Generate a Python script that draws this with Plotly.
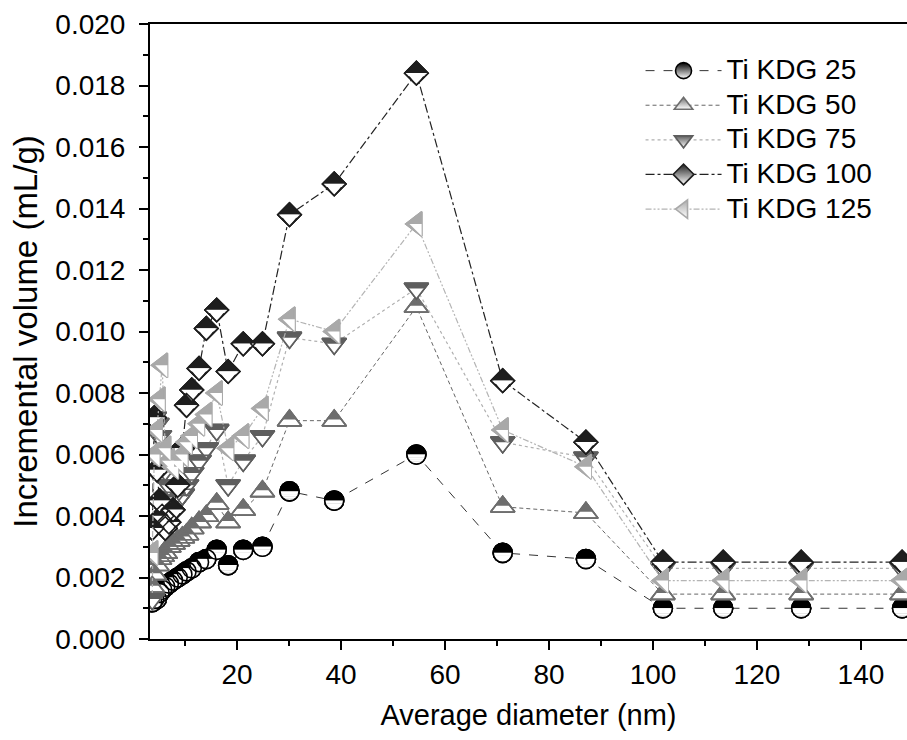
import math
import plotly.graph_objects as go

# ---------------- data ----------------
diameter_nm = [3.7, 4.1, 4.6, 5.1, 5.6, 6.2, 6.9, 7.7, 8.6, 9.5, 10.3, 11.3, 12.7, 14.1,
               16.1, 18.3, 21.2, 24.9, 30.1, 38.7, 54.5, 71.1, 87.1, 101.9, 113.5, 128.5, 147.9]

ti_kdg_25 = [0.0012, 0.0013, 0.0013, 0.0015, 0.0016, 0.0017, 0.0018, 0.0019, 0.0020, 0.0021,
             0.0022, 0.0023, 0.0025, 0.0026, 0.0029, 0.0024, 0.0029, 0.0030, 0.0048, 0.0045,
             0.0060, 0.0028, 0.0026, 0.0010, 0.0010, 0.0010, 0.0010]
ti_kdg_50 = [0.0017, 0.0021, 0.0024, 0.0026, 0.0027, 0.0028, 0.0030, 0.0031, 0.0032, 0.0033,
             0.0034, 0.0036, 0.0038, 0.0040, 0.0044, 0.0038, 0.0042, 0.0048, 0.0071, 0.0071,
             0.0108, 0.0043, 0.0041, 0.00146, 0.00146, 0.00146, 0.00146]
ti_kdg_75 = [0.0013, 0.0072, 0.0070, 0.0066, 0.0060, 0.0055, 0.0050, 0.0046, 0.0045, 0.0047,
             0.0050, 0.0054, 0.0058, 0.0062, 0.0068, 0.0050, 0.0058, 0.0066, 0.0098, 0.0096,
             0.0114, 0.0064, 0.0059, 0.0023, 0.0023, 0.0023, 0.0023]
ti_kdg_100 = [0.0036, 0.0072, 0.0055, 0.0045, 0.0040, 0.0036, 0.0038, 0.0042, 0.0050, 0.0062,
              0.0076, 0.0081, 0.0088, 0.0101, 0.0107, 0.0087, 0.0096, 0.0096, 0.0138, 0.0148,
              0.0184, 0.0084, 0.0064, 0.0025, 0.0025, 0.0025, 0.0025]
ti_kdg_125 = [0.0028, 0.0060, 0.0068, 0.0078, 0.0089, 0.0062, 0.0058, 0.0056, 0.0058, 0.0060,
              0.0064, 0.0066, 0.0070, 0.0073, 0.0080, 0.0062, 0.0066, 0.0075, 0.0104, 0.0100,
              0.0135, 0.0068, 0.0056, 0.0019, 0.0019, 0.0019, 0.0019]

series_names = ["Ti KDG 25", "Ti KDG 50", "Ti KDG 75", "Ti KDG 100", "Ti KDG 125"]
x_tick_values = [20, 40, 60, 80, 100, 120, 140]

# ---------------- layout geometry / style ----------------
W, H = 907, 740
ML, MR, MT, MB = 150, 0, 24, 101
X_RANGE = [3.27, 148.85]
Y_RANGE = [0.0, 0.020]
PX_PER_X = (W - ML - MR) / (X_RANGE[1] - X_RANGE[0])
FONT = "Liberation Sans, Arial, sans-serif"
CLEAR = "rgba(0,0,0,0)"
OUT_W = 1.6

fig = go.Figure()


def layer(x, y, group, symbol, size, color, lw=0.0, lc=None, angle=0, standoff=0, xaxis="x"):
    fig.add_trace(go.Scatter(
        x=x, y=y, mode="markers", xaxis=xaxis, yaxis="y",
        legendgroup=group, showlegend=False, hoverinfo="skip",
        marker=dict(symbol=symbol, size=size, color=color, angle=angle, standoff=standoff,
                    line=dict(width=lw, color=lc if lc else color))))


def legend_trace(x, y, name, symbol, size, color, line):
    fig.add_trace(go.Scatter(
        x=x, y=y, mode="lines+markers", legendgroup=name,
        name='<span style="font-size:28px">' + name + "</span>",
        line=line, hoverinfo="skip",
        marker=dict(symbol=symbol, size=size, color=color,
                    gradient=dict(type="vertical", color="white"),
                    line=dict(width=OUT_W, color=color))))


def white_strips(x, y, group, bands, half_of, unit):
    for a, b in bands:
        half = half_of(b) * unit + 0.5
        layer(x, y, group, "line-ew-open", half / 0.7, "white",
              lw=(b - a) * unit + 0.4, lc="white", standoff=(a + b) / 2 * unit)


x = diameter_nm

# ---- Ti KDG 25 : circle, upper half black ----
name, c, s = series_names[0], "#000000", 19
R = s / 2
legend_trace(x, ti_kdg_25, name, "circle", s, c, dict(color="#333333", width=1, dash="dash"))
layer(x, ti_kdg_25, name, "circle", s, c, OUT_W, c)
white_strips(x, ti_kdg_25, name, [(0, 0.3), (0.3, 0.55), (0.55, 0.75), (0.75, 0.88), (0.88, 0.97)],
             lambda b: math.sqrt(1 - b * b), R)
layer(x, ti_kdg_25, name, "circle", s, CLEAR, OUT_W, c)

# ---- Ti KDG 50 : up triangle, upper part grey ----
name, c, s = series_names[1], "#6e6e6e", 21
R = s / 2
k = 0.6
legend_trace(x, ti_kdg_50, name, "triangle-up", s, c, dict(color="#666666", width=1, dash="4px,3px"))
layer(x, ti_kdg_50, name, "triangle-up", s, "white", OUT_W, c)
layer(x, ti_kdg_50, name, "triangle-down", s * k, c, 0, c, angle=180, standoff=R * (1 - k))
layer(x, ti_kdg_50, name, "triangle-up", s, CLEAR, OUT_W, c)

# ---- Ti KDG 75 : down triangle, upper band grey ----
name, c, s = series_names[2], "#5e5e5e", 21
R = s / 2
k = 2 / 3
legend_trace(x, ti_kdg_75, name, "triangle-down", s, c, dict(color="#b0b0b0", width=1.2, dash="dot"))
layer(x, ti_kdg_75, name, "triangle-down", s, c, OUT_W, c)
layer(x, ti_kdg_75, name, "triangle-down", s * k, "white", 0, "white", angle=0, standoff=R * (1 - k))
layer(x, ti_kdg_75, name, "triangle-down", s, CLEAR, OUT_W, c)

# ---- Ti KDG 100 : diamond, upper half dark ----
name, c, s = series_names[3], "#1e1e1e", 18
R = s / 2
rd = 1.3 * R
rp = rd / 1.5
legend_trace(x, ti_kdg_100, name, "diamond", s, c, dict(color="#222222", width=1.2, dash="dashdot"))
layer(x, ti_kdg_100, name, "diamond", s, c, OUT_W, c)
layer(x, ti_kdg_100, name, "triangle-down", 2 * rp, "white", 0, "white", angle=0, standoff=rd - rp)
white_strips(x, ti_kdg_100, name, [(0, 0.12), (0.12, 0.25)], lambda b: 1 - b, rd)
layer(x, ti_kdg_100, name, "diamond", s, CLEAR, OUT_W, c)

# ---- Ti KDG 125 : left triangle, upper half light grey ----
name, c, s = series_names[4], "#a9a9a9", 21
R = s / 2
leg = 1.155 * R
rne = leg / 1.8
legend_trace(x, ti_kdg_125, name, "triangle-left", s, c,
             dict(color="#b4b4b4", width=1.2, dash="6px,2px,2px,2px,2px,2px"))
layer(x, ti_kdg_125, name, "triangle-left", s, c, OUT_W, c)
layer(x, ti_kdg_125, name, "triangle-ne", 2 * rne, "white", 0, "white", angle=0,
      standoff=0.6 * rne, xaxis="x2")
layer(x, ti_kdg_125, name, "triangle-left", s, CLEAR, OUT_W, c)

shift_x = (0.5 * R - 0.6 * rne) / PX_PER_X

fig.update_layout(
    width=W, height=H,
    margin=dict(l=ML, r=MR, t=MT, b=MB, autoexpand=False),
    paper_bgcolor="white", plot_bgcolor="white",
    font=dict(family=FONT, size=28, color="black"),
    showlegend=True,
    legend=dict(x=0.648, y=0.958, xanchor="left", yanchor="top",
                font=dict(family=FONT, size=22, color="black"),
                bgcolor=CLEAR, borderwidth=0, itemwidth=76, tracegroupgap=3,
                itemclick=False, itemdoubleclick=False),
    xaxis=dict(range=X_RANGE, showgrid=False, zeroline=False,
               showline=True, linecolor="black", linewidth=2, mirror=True,
               ticks="outside", ticklen=9, tickwidth=1.5, tickcolor="black",
               tickvals=x_tick_values, ticklabelstandoff=0,
               tickfont=dict(family=FONT, size=28),
               minor=dict(tickvals=[10, 30, 50, 70, 90, 110, 130], ticks="outside",
                          ticklen=5, tickwidth=1.5, tickcolor="black"),
               title=dict(text="Average diameter (nm)", font=dict(family=FONT, size=29),
                          standoff=16)),
    xaxis2=dict(range=[X_RANGE[0] - shift_x, X_RANGE[1] - shift_x], overlaying="x",
                visible=False, showgrid=False, zeroline=False),
    yaxis=dict(range=Y_RANGE, showgrid=False, zeroline=False,
               showline=True, linecolor="black", linewidth=2,
               ticks="outside", ticklen=9, tickwidth=1.5, tickcolor="black",
               dtick=0.002, tick0=0, tickformat=".3f", ticklabelstandoff=8,
               tickfont=dict(family=FONT, size=28),
               minor=dict(dtick=0.001, tick0=0, ticks="outside", ticklen=5,
                          tickwidth=1.5, tickcolor="black"),
               title=dict(text="Incremental volume (mL/g)", font=dict(family=FONT, size=33),
                          standoff=8)),
)

fig.write_html("out.html")
